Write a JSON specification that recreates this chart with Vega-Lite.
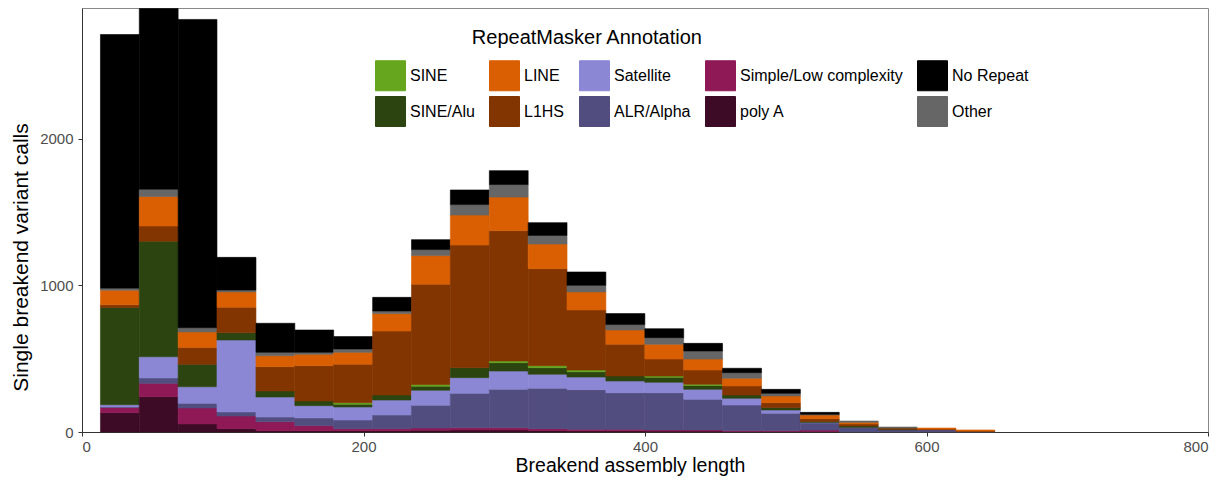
{
"$schema": "https://vega.github.io/schema/vega-lite/v6.json",
"width": 1126, "height": 424,
"autosize": {"type": "none"},
"padding": {"left": 82, "top": 8, "right": 22, "bottom": 49},
"background": "white",
"config": {"font": "Liberation Sans", "view": {"stroke": "#888888", "strokeWidth": 1}},
"data": {"values": [
{"b":13.1,"e":40.7,"c":"poly A","n":132},{"b":13.1,"e":40.7,"c":"Simple/Low complexity","n":36},{"b":13.1,"e":40.7,"c":"ALR/Alpha","n":4},{"b":13.1,"e":40.7,"c":"Satellite","n":14},{"b":13.1,"e":40.7,"c":"SINE/Alu","n":664},{"b":13.1,"e":40.7,"c":"L1HS","n":18},{"b":13.1,"e":40.7,"c":"LINE","n":100},{"b":13.1,"e":40.7,"c":"Other","n":14},{"b":13.1,"e":40.7,"c":"No Repeat","n":1731},
{"b":40.7,"e":68.3,"c":"poly A","n":241},{"b":40.7,"e":68.3,"c":"Simple/Low complexity","n":91},{"b":40.7,"e":68.3,"c":"ALR/Alpha","n":37},{"b":40.7,"e":68.3,"c":"Satellite","n":145},{"b":40.7,"e":68.3,"c":"SINE/Alu","n":788},{"b":40.7,"e":68.3,"c":"L1HS","n":104},{"b":40.7,"e":68.3,"c":"LINE","n":201},{"b":40.7,"e":68.3,"c":"Other","n":50},{"b":40.7,"e":68.3,"c":"No Repeat","n":1233},
{"b":68.3,"e":95.9,"c":"poly A","n":55},{"b":68.3,"e":95.9,"c":"Simple/Low complexity","n":109},{"b":68.3,"e":95.9,"c":"ALR/Alpha","n":32},{"b":68.3,"e":95.9,"c":"Satellite","n":113},{"b":68.3,"e":95.9,"c":"SINE/Alu","n":153},{"b":68.3,"e":95.9,"c":"L1HS","n":114},{"b":68.3,"e":95.9,"c":"LINE","n":107},{"b":68.3,"e":95.9,"c":"Other","n":29},{"b":68.3,"e":95.9,"c":"No Repeat","n":2104},
{"b":95.9,"e":123.6,"c":"poly A","n":23},{"b":95.9,"e":123.6,"c":"Simple/Low complexity","n":86},{"b":95.9,"e":123.6,"c":"ALR/Alpha","n":28},{"b":95.9,"e":123.6,"c":"Satellite","n":491},{"b":95.9,"e":123.6,"c":"SINE/Alu","n":50},{"b":95.9,"e":123.6,"c":"L1HS","n":173},{"b":95.9,"e":123.6,"c":"LINE","n":105},{"b":95.9,"e":123.6,"c":"Other","n":13},{"b":95.9,"e":123.6,"c":"No Repeat","n":223},
{"b":123.6,"e":151.2,"c":"poly A","n":9},{"b":123.6,"e":151.2,"c":"Simple/Low complexity","n":61},{"b":123.6,"e":151.2,"c":"ALR/Alpha","n":32},{"b":123.6,"e":151.2,"c":"Satellite","n":137},{"b":123.6,"e":151.2,"c":"SINE/Alu","n":41},{"b":123.6,"e":151.2,"c":"L1HS","n":166},{"b":123.6,"e":151.2,"c":"LINE","n":75},{"b":123.6,"e":151.2,"c":"Other","n":23},{"b":123.6,"e":151.2,"c":"No Repeat","n":198},
{"b":151.2,"e":178.8,"c":"poly A","n":9},{"b":151.2,"e":178.8,"c":"Simple/Low complexity","n":34},{"b":151.2,"e":178.8,"c":"ALR/Alpha","n":53},{"b":151.2,"e":178.8,"c":"Satellite","n":84},{"b":151.2,"e":178.8,"c":"SINE/Alu","n":32},{"b":151.2,"e":178.8,"c":"L1HS","n":241},{"b":151.2,"e":178.8,"c":"LINE","n":77},{"b":151.2,"e":178.8,"c":"Other","n":14},{"b":151.2,"e":178.8,"c":"No Repeat","n":152},
{"b":178.8,"e":206.5,"c":"poly A","n":9},{"b":178.8,"e":206.5,"c":"Simple/Low complexity","n":14},{"b":178.8,"e":206.5,"c":"ALR/Alpha","n":59},{"b":178.8,"e":206.5,"c":"Satellite","n":89},{"b":178.8,"e":206.5,"c":"SINE/Alu","n":19},{"b":178.8,"e":206.5,"c":"SINE","n":10},{"b":178.8,"e":206.5,"c":"L1HS","n":262},{"b":178.8,"e":206.5,"c":"LINE","n":82},{"b":178.8,"e":206.5,"c":"Other","n":23},{"b":178.8,"e":206.5,"c":"No Repeat","n":84},
{"b":206.5,"e":234.1,"c":"poly A","n":9},{"b":206.5,"e":234.1,"c":"Simple/Low complexity","n":14},{"b":206.5,"e":234.1,"c":"ALR/Alpha","n":93},{"b":206.5,"e":234.1,"c":"Satellite","n":102},{"b":206.5,"e":234.1,"c":"SINE/Alu","n":35},{"b":206.5,"e":234.1,"c":"L1HS","n":436},{"b":206.5,"e":234.1,"c":"LINE","n":119},{"b":206.5,"e":234.1,"c":"Other","n":18},{"b":206.5,"e":234.1,"c":"No Repeat","n":93},
{"b":234.1,"e":261.7,"c":"poly A","n":12},{"b":234.1,"e":261.7,"c":"Simple/Low complexity","n":15},{"b":234.1,"e":261.7,"c":"ALR/Alpha","n":155},{"b":234.1,"e":261.7,"c":"Satellite","n":103},{"b":234.1,"e":261.7,"c":"SINE/Alu","n":27},{"b":234.1,"e":261.7,"c":"SINE","n":12},{"b":234.1,"e":261.7,"c":"L1HS","n":684},{"b":234.1,"e":261.7,"c":"LINE","n":196},{"b":234.1,"e":261.7,"c":"Other","n":41},{"b":234.1,"e":261.7,"c":"No Repeat","n":68},
{"b":261.7,"e":289.4,"c":"poly A","n":14},{"b":261.7,"e":289.4,"c":"Simple/Low complexity","n":15},{"b":261.7,"e":289.4,"c":"ALR/Alpha","n":235},{"b":261.7,"e":289.4,"c":"Satellite","n":107},{"b":261.7,"e":289.4,"c":"SINE/Alu","n":68},{"b":261.7,"e":289.4,"c":"L1HS","n":837},{"b":261.7,"e":289.4,"c":"LINE","n":205},{"b":261.7,"e":289.4,"c":"Other","n":71},{"b":261.7,"e":289.4,"c":"No Repeat","n":100},
{"b":289.4,"e":317.0,"c":"poly A","n":14},{"b":289.4,"e":317.0,"c":"Simple/Low complexity","n":15},{"b":289.4,"e":317.0,"c":"ALR/Alpha","n":262},{"b":289.4,"e":317.0,"c":"Satellite","n":125},{"b":289.4,"e":317.0,"c":"SINE/Alu","n":57},{"b":289.4,"e":317.0,"c":"SINE","n":12},{"b":289.4,"e":317.0,"c":"L1HS","n":889},{"b":289.4,"e":317.0,"c":"LINE","n":230},{"b":289.4,"e":317.0,"c":"Other","n":85},{"b":289.4,"e":317.0,"c":"No Repeat","n":95},
{"b":317.0,"e":344.6,"c":"poly A","n":11},{"b":317.0,"e":344.6,"c":"Simple/Low complexity","n":12},{"b":317.0,"e":344.6,"c":"ALR/Alpha","n":275},{"b":317.0,"e":344.6,"c":"Satellite","n":96},{"b":317.0,"e":344.6,"c":"SINE/Alu","n":45},{"b":317.0,"e":344.6,"c":"SINE","n":14},{"b":317.0,"e":344.6,"c":"L1HS","n":662},{"b":317.0,"e":344.6,"c":"LINE","n":168},{"b":317.0,"e":344.6,"c":"Other","n":59},{"b":317.0,"e":344.6,"c":"No Repeat","n":87},
{"b":344.6,"e":372.2,"c":"poly A","n":8},{"b":344.6,"e":372.2,"c":"Simple/Low complexity","n":10},{"b":344.6,"e":372.2,"c":"ALR/Alpha","n":271},{"b":344.6,"e":372.2,"c":"Satellite","n":86},{"b":344.6,"e":372.2,"c":"SINE/Alu","n":36},{"b":344.6,"e":372.2,"c":"SINE","n":12},{"b":344.6,"e":372.2,"c":"L1HS","n":410},{"b":344.6,"e":372.2,"c":"LINE","n":123},{"b":344.6,"e":372.2,"c":"Other","n":45},{"b":344.6,"e":372.2,"c":"No Repeat","n":91},
{"b":372.2,"e":399.9,"c":"poly A","n":8},{"b":372.2,"e":399.9,"c":"Simple/Low complexity","n":10},{"b":372.2,"e":399.9,"c":"ALR/Alpha","n":250},{"b":372.2,"e":399.9,"c":"Satellite","n":80},{"b":372.2,"e":399.9,"c":"SINE/Alu","n":34},{"b":372.2,"e":399.9,"c":"L1HS","n":217},{"b":372.2,"e":399.9,"c":"LINE","n":97},{"b":372.2,"e":399.9,"c":"Other","n":37},{"b":372.2,"e":399.9,"c":"No Repeat","n":75},
{"b":399.9,"e":427.5,"c":"poly A","n":6},{"b":399.9,"e":427.5,"c":"Simple/Low complexity","n":8},{"b":399.9,"e":427.5,"c":"ALR/Alpha","n":254},{"b":399.9,"e":427.5,"c":"Satellite","n":71},{"b":399.9,"e":427.5,"c":"SINE/Alu","n":34},{"b":399.9,"e":427.5,"c":"SINE","n":9},{"b":399.9,"e":427.5,"c":"L1HS","n":116},{"b":399.9,"e":427.5,"c":"LINE","n":101},{"b":399.9,"e":427.5,"c":"Other","n":45},{"b":399.9,"e":427.5,"c":"No Repeat","n":61},
{"b":427.5,"e":455.1,"c":"poly A","n":6},{"b":427.5,"e":455.1,"c":"Simple/Low complexity","n":8},{"b":427.5,"e":455.1,"c":"ALR/Alpha","n":209},{"b":427.5,"e":455.1,"c":"Satellite","n":68},{"b":427.5,"e":455.1,"c":"SINE/Alu","n":26},{"b":427.5,"e":455.1,"c":"SINE","n":9},{"b":427.5,"e":455.1,"c":"L1HS","n":97},{"b":427.5,"e":455.1,"c":"LINE","n":75},{"b":427.5,"e":455.1,"c":"Other","n":55},{"b":427.5,"e":455.1,"c":"No Repeat","n":52},
{"b":455.1,"e":482.8,"c":"poly A","n":4},{"b":455.1,"e":482.8,"c":"Simple/Low complexity","n":5},{"b":455.1,"e":482.8,"c":"ALR/Alpha","n":175},{"b":455.1,"e":482.8,"c":"Satellite","n":46},{"b":455.1,"e":482.8,"c":"SINE/Alu","n":23},{"b":455.1,"e":482.8,"c":"L1HS","n":61},{"b":455.1,"e":482.8,"c":"LINE","n":53},{"b":455.1,"e":482.8,"c":"Other","n":38},{"b":455.1,"e":482.8,"c":"No Repeat","n":30},
{"b":482.8,"e":510.4,"c":"poly A","n":4},{"b":482.8,"e":510.4,"c":"Simple/Low complexity","n":5},{"b":482.8,"e":510.4,"c":"ALR/Alpha","n":119},{"b":482.8,"e":510.4,"c":"Satellite","n":22},{"b":482.8,"e":510.4,"c":"SINE/Alu","n":16},{"b":482.8,"e":510.4,"c":"L1HS","n":34},{"b":482.8,"e":510.4,"c":"LINE","n":46},{"b":482.8,"e":510.4,"c":"Other","n":18},{"b":482.8,"e":510.4,"c":"No Repeat","n":27},
{"b":510.4,"e":538.0,"c":"poly A","n":4},{"b":510.4,"e":538.0,"c":"Simple/Low complexity","n":9},{"b":510.4,"e":538.0,"c":"ALR/Alpha","n":49},{"b":510.4,"e":538.0,"c":"Satellite","n":3},{"b":510.4,"e":538.0,"c":"SINE/Alu","n":7},{"b":510.4,"e":538.0,"c":"L1HS","n":19},{"b":510.4,"e":538.0,"c":"LINE","n":25},{"b":510.4,"e":538.0,"c":"Other","n":5},{"b":510.4,"e":538.0,"c":"No Repeat","n":13},
{"b":538.0,"e":565.7,"c":"ALR/Alpha","n":32},{"b":538.0,"e":565.7,"c":"SINE/Alu","n":9},{"b":538.0,"e":565.7,"c":"L1HS","n":14},{"b":538.0,"e":565.7,"c":"LINE","n":11},{"b":538.0,"e":565.7,"c":"Other","n":9},
{"b":565.7,"e":593.3,"c":"ALR/Alpha","n":14},{"b":565.7,"e":593.3,"c":"SINE/Alu","n":4},{"b":565.7,"e":593.3,"c":"L1HS","n":9},{"b":565.7,"e":593.3,"c":"Other","n":7},
{"b":593.3,"e":620.9,"c":"ALR/Alpha","n":15},{"b":593.3,"e":620.9,"c":"L1HS","n":5},{"b":593.3,"e":620.9,"c":"LINE","n":7},
{"b":620.9,"e":648.5,"c":"ALR/Alpha","n":4},{"b":620.9,"e":648.5,"c":"L1HS","n":3},{"b":620.9,"e":648.5,"c":"LINE","n":7}
]},
"transform": [{"stack": "n", "groupby": ["b"], "as": ["y0", "y1"]}],
"mark": {"type": "bar", "strokeWidth": 0.6},
"encoding": {
  "x": {"field": "b", "type": "quantitative",
    "scale": {"domain": [0, 800], "nice": false, "zero": false},
    "axis": {"values": [0, 200, 400, 600, 800], "title": "Breakend assembly length", "grid": false,
      "domainColor": "#333333", "tickColor": "#333333", "tickSize": 4,
      "labelColor": "#4d4d4d", "labelFontSize": 15, "labelPadding": 3,
      "titleFontSize": 19.5, "titleFontWeight": "normal", "titleColor": "#000000", "titlePadding": 2, "titleX": 548}},
  "x2": {"field": "e"},
  "y": {"field": "y0", "type": "quantitative",
    "scale": {"domain": [0, 2894], "nice": false},
    "axis": {"values": [0, 1000, 2000], "format": "d", "title": "Single breakend variant calls", "grid": false,
      "domainColor": "#333333", "tickColor": "#333333", "tickSize": 4,
      "labelColor": "#4d4d4d", "labelFontSize": 15, "labelPadding": 5,
      "titleFontSize": 21, "titleFontWeight": "normal", "titleColor": "#000000", "titlePadding": 8, "titleY": 249}},
  "y2": {"field": "y1"},
  "stroke": {"field": "c", "type": "nominal", "legend": null,
    "scale": {
      "domain": ["SINE", "LINE", "Satellite", "Simple/Low complexity", "No Repeat", "SINE/Alu", "L1HS", "ALR/Alpha", "poly A", "Other"],
      "range": ["#66a61e", "#d95f02", "#8b87d5", "#8e1956", "#000000", "#2b4410", "#833500", "#524d7f", "#3d0b25", "#666666"]}},
  "color": {"field": "c", "type": "nominal",
    "scale": {
      "domain": ["SINE", "LINE", "Satellite", "Simple/Low complexity", "No Repeat", "SINE/Alu", "L1HS", "ALR/Alpha", "poly A", "Other"],
      "range": ["#66a61e", "#d95f02", "#8b87d5", "#8e1956", "#000000", "#2b4410", "#833500", "#524d7f", "#3d0b25", "#666666"]},
    "legend": {"title": "RepeatMasker Annotation", "orient": "none", "legendX": 293, "legendY": 20,
      "direction": "horizontal", "columns": 5, "padding": 0,
      "symbolType": "square", "symbolSize": 900, "symbolStrokeColor": "#d0d0d0", "symbolStrokeWidth": 1, "symbolOpacity": 1,
      "labelFontSize": 16, "labelColor": "#000000", "labelOffset": 4, "labelLimit": 300,
      "titleFontSize": 20, "titleFontWeight": "normal", "titleColor": "#000000", "titleLimit": 400,
      "titleAnchor": "middle", "titleAlign": "right", "titlePadding": 12,
      "rowPadding": 1, "columnPadding": 12}}
}
}
